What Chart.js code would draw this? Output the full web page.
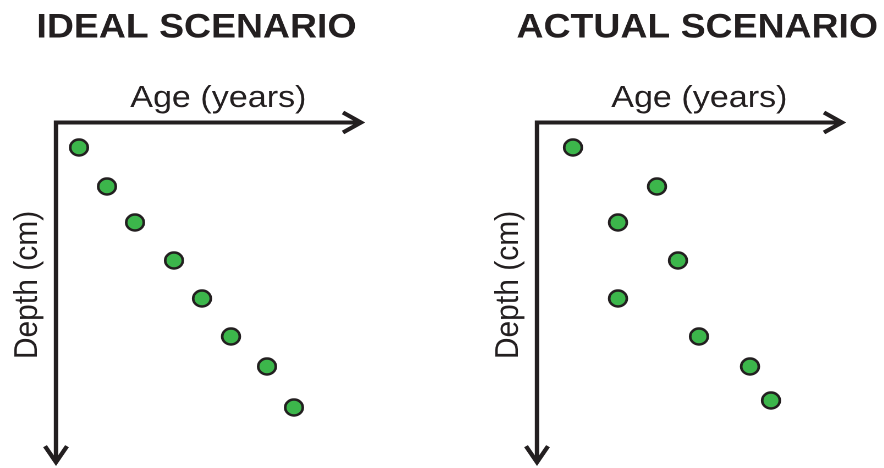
<!DOCTYPE html>
<html>
<head>
<meta charset="utf-8">
<script src="https://cdn.jsdelivr.net/npm/chart.js@4.4.0/dist/chart.umd.min.js"></script>
<style>
  html, body { margin: 0; padding: 0; background: #fff; overflow: hidden; width: 884px; height: 468px; }
  /* the original art is a little wider than tall, so stretch each panel sideways */
  .panel { position: absolute; top: 0; width: 400px; height: 468px; transform: scaleX(1.1); transform-origin: 0 0; }
  .panel canvas { display: block; width: 400px; height: 468px; }
</style>
</head>
<body>
<div class="panel" style="left:0px"><canvas id="idealChart" width="400" height="468"></canvas></div>
<div class="panel" style="left:480.7px"><canvas id="actualChart" width="400" height="468"></canvas></div>
<script>
(function () {
    "use strict";

var panelTitles = ["IDEAL SCENARIO", "ACTUAL SCENARIO"];
var ageLabel = "Age (years)";
var depthLabel = "Depth (cm)";

// ideal: steady sedimentation, age grows with depth
var idealAge   = [2.3, 5.1, 7.9, 11.8, 14.6, 17.5, 21.1, 23.8];
var idealDepth = [2.5, 6.4, 10.0, 13.8, 17.6, 21.4, 24.4, 28.5];

// actual: mixed / reworked layers
var actualAge   = [3.6, 12.0, 8.1, 14.1, 8.1, 16.2, 21.3, 23.4];
var actualDepth = [2.5, 6.4, 10.0, 13.8, 17.6, 21.4, 24.4, 27.8];

var ageMax = 30.9;
var depthMax = 34.35;

var ink = "#231f20";
var dotGreen = "#3cb64b";
var fontFamily = "'Liberation Sans', Arial, Helvetica, sans-serif";

function toPoints(xs, ys) {
    return xs.map(function (x, i) { return { x: x, y: ys[i] }; });
}

// axis arrows, axis labels and panel heading
var sketchAxes = {
    id: "sketchAxes",
    afterDraw: function (chart, args, opts) {
        var ctx = chart.ctx;
        var a = chart.chartArea;
        ctx.save();
        ctx.strokeStyle = ink;
        ctx.lineWidth = 4;
        ctx.lineJoin = "miter";
        ctx.lineCap = "butt";

        ctx.beginPath();
        ctx.moveTo(a.left, a.bottom - 4);
        ctx.lineTo(a.left, a.top);
        ctx.lineTo(a.right - 4, a.top);
        ctx.stroke();

        ctx.beginPath();
        ctx.moveTo(a.right - 20, a.top - 10);
        ctx.lineTo(a.right - 3.6, a.top);
        ctx.lineTo(a.right - 20, a.top + 10);
        ctx.stroke();

        ctx.beginPath();
        ctx.moveTo(a.left - 10, a.bottom - 19.8);
        ctx.lineTo(a.left, a.bottom - 3.8);
        ctx.lineTo(a.left + 10, a.bottom - 19.8);
        ctx.stroke();

        ctx.fillStyle = ink;
        ctx.textAlign = "center";
        ctx.textBaseline = "alphabetic";

        ctx.font = "bold 34px " + fontFamily;
        ctx.fillText(opts.title, opts.titleX, 37.5);

        ctx.font = "31px " + fontFamily;
        ctx.fillText(ageLabel, opts.ageX, 107);

        ctx.font = "30px " + fontFamily;
        ctx.translate(33.4, 285);
        ctx.rotate(-Math.PI / 2);
        ctx.fillText(depthLabel, 0, 0);
        ctx.restore();
    }
};

function makeChart(id, title, titleX, xs, ys) {
    return new Chart(document.getElementById(id), {
        type: "scatter",
        data: {
            datasets: [{
                data: toPoints(xs, ys),
                backgroundColor: dotGreen,
                borderColor: ink,
                borderWidth: 2.4,
                pointRadius: 8,
                pointHoverRadius: 8,
                clip: false
            }]
        },
        options: {
            responsive: false,
            animation: false,
            devicePixelRatio: 2,
            layout: {
                autoPadding: false,
                padding: { left: 50.9, right: 68.2, top: 122.5, bottom: 2 }
            },
            scales: {
                x: { type: "linear", display: false, min: 0, max: ageMax },
                y: { type: "linear", display: false, min: 0, max: depthMax, reverse: true }
            },
            plugins: {
                legend: { display: false },
                tooltip: { enabled: false },
                sketchAxes: { title: title, titleX: titleX, ageX: 198.5 }
            }
        },
        plugins: [sketchAxes]
    });
}

makeChart("idealChart", panelTitles[0], 178.6, idealAge, idealDepth);
makeChart("actualChart", panelTitles[1], 196.6, actualAge, actualDepth);

})();
</script>
</body>
</html>
